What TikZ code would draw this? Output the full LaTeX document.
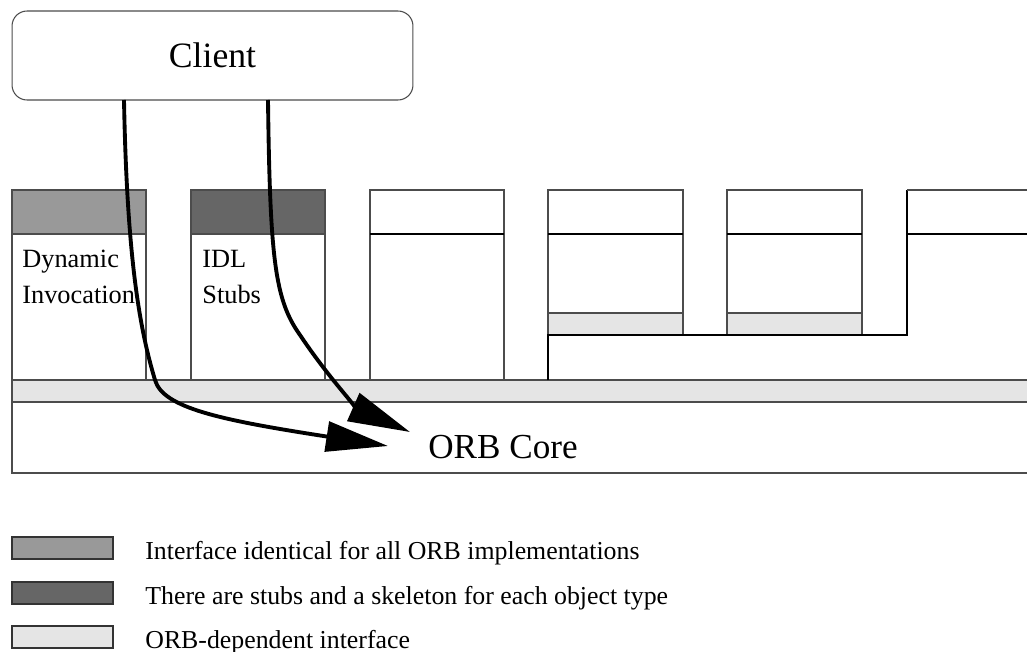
\documentclass[tikz,border=0pt]{standalone}
\usepackage{fontspec}
\setmainfont{Liberation Serif}
\usetikzlibrary{arrows.meta,positioning}
\definecolor{dyngray}{gray}{0.6}
\definecolor{stubgray}{gray}{0.4}
\definecolor{orbgray}{gray}{0.9}

\begin{document}
\begin{tikzpicture}[x=0.02cm, y=-0.02cm,
   frame/.style={draw=black!70, line width=0.6pt},
   cut/.style={draw=black, line width=0.9pt},
   flow/.style={-{Triangle[length=1.24cm,width=0.6cm]}, line width=2.2pt},
   big/.style={font=\fontsize{20.3}{24}\selectfont},
   small/.style={font=\fontsize{15}{20.5}\selectfont, align=left, inner sep=0pt},
   key/.style={font=\fontsize{14.7}{17}\selectfont, inner sep=0pt}]
   \clip (0,0) rectangle (1027,652);
   \node (client) at (212.5,55.5) [frame, rounded corners=0.3cm, minimum width=8.02cm, minimum height=1.78cm, big] {Client};

   % ORB core with the ORB-dependent layer on top
   \draw[frame, fill=orbgray] (12,380) rectangle (1040,402);
   \draw[frame] (12,402) rectangle (1040,473);
   \node (core) at (428,458) [anchor=base west, inner sep=0pt, font=\fontsize{20}{24}\selectfont] {ORB Core};

   % dynamic invocation and IDL stubs
   \draw[frame, fill=dyngray] (12,190) rectangle (146,234);
   \draw[frame] (12,234) rectangle (146,380);
   \draw[frame, fill=stubgray] (191,190) rectangle (325,234);
   \draw[frame] (191,234) rectangle (325,380);
   \node (dyn) at (22,250) [anchor=north west, small] {Dynamic\\Invocation};
   \node (idl) at (202,250) [anchor=north west, small] {IDL\\Stubs};

   % the other columns
   \draw[frame] (370,190) rectangle (504,380);
   \draw[cut] (370,234) -- (504,234);
   \foreach \x in {548,727} {
      \draw[frame] (\x,190) rectangle ++(135,123);
      \draw[cut] (\x,234) -- ++(135,0);
      \draw[frame, fill=orbgray] (\x,313) rectangle ++(135,22);
   }
   \draw[cut] (548,380) -- (548,335) -- (907,335) -- (907,190);
   \draw[frame] (907,190) -- (1040,190);
   \draw[cut] (907,234) -- (1040,234);

   % calls from the client
   \coordinate (dii) at (124,100);
   \coordinate (stub) at (268,100);
   \coordinate (core-a) at (388,446);
   \coordinate (core-b) at (410,432);
   \draw (dii)[flow] .. controls (127,260) and (140,330) .. (155,380) .. controls (163,408) and (220,420) .. (core-a);
   \draw (stub)[flow] .. controls (270,260) and (275,300) .. (300,335) .. controls (330,380) and (360,410) .. (core-b);

   % legend
   \foreach \fillc/\yy/\txt [count=\i] in {dyngray/559/Interface identical for all ORB implementations,
         stubgray/604/There are stubs and a skeleton for each object type,
         orbgray/648/ORB-dependent interface} {
      \draw[draw=black!80, line width=0.6pt, fill=\fillc] (12,\yy-22) rectangle (113,\yy);
      \node (key\i) at (145,\yy) [anchor=base west, key] {\txt};
   }
\end{tikzpicture}
\end{document}
